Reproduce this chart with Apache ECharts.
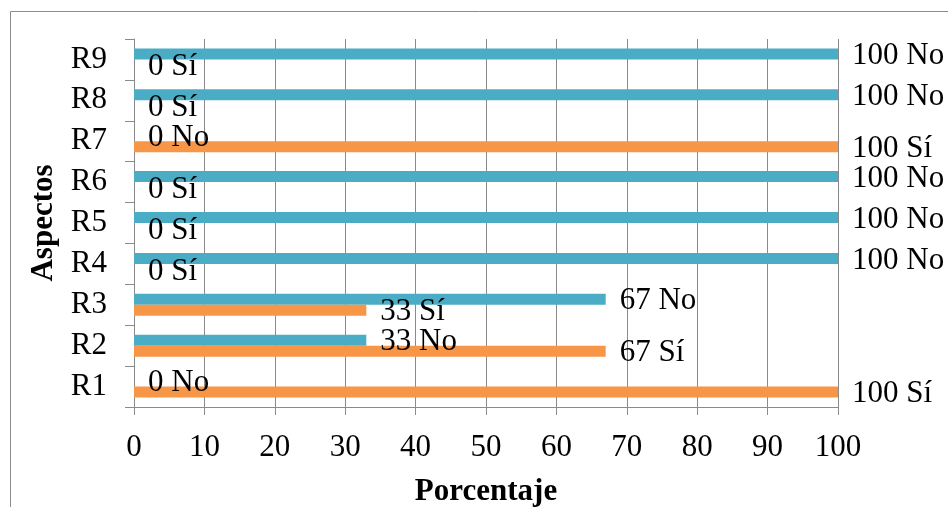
<!DOCTYPE html>
<html>
<head>
<meta charset="utf-8">
<script src="https://cdn.jsdelivr.net/npm/echarts@6/dist/echarts.min.js"></script>
<style>
  html, body { margin: 0; padding: 0; background: #fff; }
  #chart { width: 948px; height: 507px; }
</style>
</head>
<body>
<div id="chart"></div>
<script>
// Aspectos evaluados y porcentaje de respuestas
const categories = ['R1', 'R2', 'R3', 'R4', 'R5', 'R6', 'R7', 'R8', 'R9'];
const valuesNo = [0, 33, 67, 100, 100, 100, 0, 100, 100];
const valuesSi = [100, 67, 33, 0, 0, 0, 100, 0, 0];
const xTicks = [0, 10, 20, 30, 40, 50, 60, 70, 80, 90, 100];

const serif = '"Liberation Serif", "Times New Roman", serif';
const gridColor = '#8a8a8a';

const chart = echarts.init(document.getElementById('chart'));

function barLabel(suffix) {
  return {
    show: true,
    position: 'right',
    distance: 14,
    offset: [0, 2],
    fontFamily: serif,
    fontSize: 31,
    color: '#000',
    formatter: p => p.value + ' ' + suffix
  };
}

chart.setOption({
  animation: false,
  backgroundColor: '#fff',
  graphic: [{
    type: 'rect',
    shape: { x: 10.5, y: 11.5, width: 1000, height: 600 },
    style: { fill: null, stroke: '#8c8c8c', lineWidth: 1 },
    silent: true
  }],
  grid: {
    left: 134, right: 110, top: 39, bottom: 100,
    containLabel: false,
    outerBoundsMode: 'none'
  },
  xAxis: {
    type: 'value',
    min: xTicks[0],
    max: xTicks[xTicks.length - 1],
    interval: 10,
    name: 'Porcentaje',
    nameLocation: 'middle',
    nameGap: 69,
    nameTextStyle: { fontFamily: serif, fontSize: 31, fontWeight: 'bold', color: '#000' },
    axisLine: { show: true, lineStyle: { color: gridColor, width: 1 } },
    axisTick: { show: true, length: 8, lineStyle: { color: gridColor } },
    axisLabel: { margin: 25, fontFamily: serif, fontSize: 31, color: '#000' },
    splitLine: { show: true, lineStyle: { color: gridColor, width: 1 } }
  },
  yAxis: {
    type: 'category',
    data: categories,
    name: 'Aspectos',
    nameLocation: 'middle',
    nameGap: 71,
    nameTextStyle: { fontFamily: serif, fontSize: 31, fontWeight: 'bold', color: '#000' },
    axisLine: { show: true, lineStyle: { color: gridColor, width: 1 } },
    axisTick: { show: true, length: 9, lineStyle: { color: gridColor } },
    axisLabel: { interval: 0, margin: 27, fontFamily: serif, fontSize: 31, color: '#000' },
    splitLine: { show: false }
  },
  series: [
    {
      name: 'No',
      type: 'bar',
      data: valuesNo,
      barWidth: 11,
      barGap: '0%',
      itemStyle: { color: '#4BACC6' },
      label: barLabel('No')
    },
    {
      name: 'Sí',
      type: 'bar',
      data: valuesSi,
      barWidth: 11,
      barGap: '0%',
      itemStyle: { color: '#F79646' },
      label: barLabel('Sí')
    }
  ]
});
</script>
</body>
</html>
